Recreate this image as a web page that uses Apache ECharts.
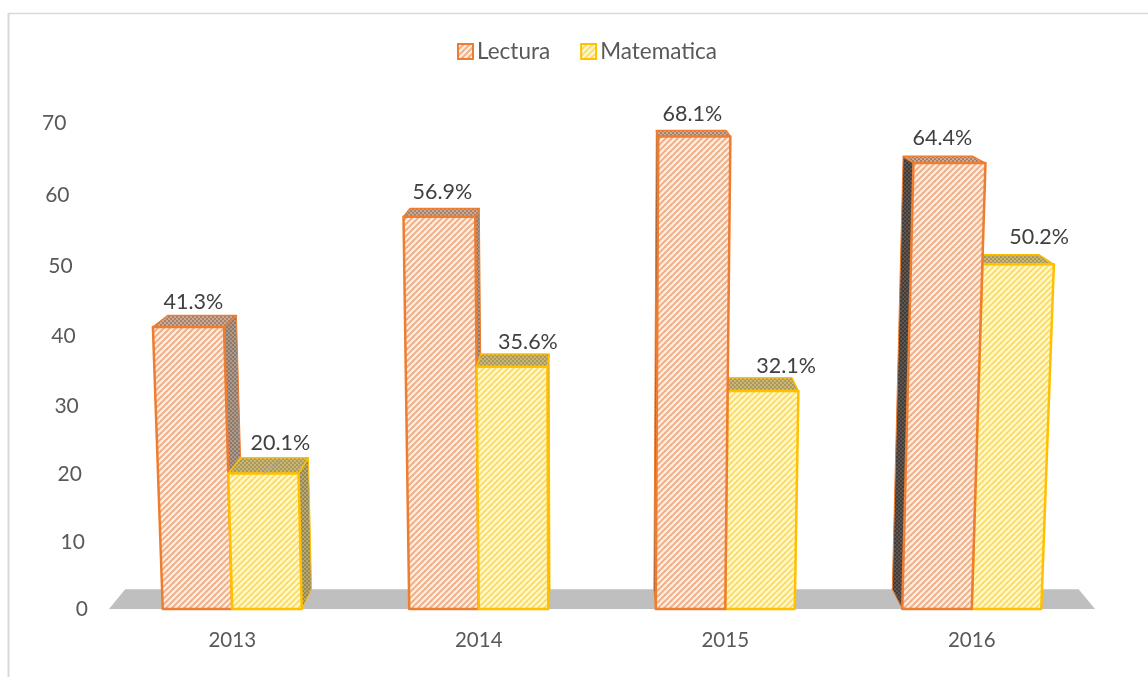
<!DOCTYPE html>
<html>
<head>
<meta charset="utf-8">
<style>html,body{margin:0;background:#fff}#chart{width:1148px;height:677px}</style>
<script src="https://cdn.jsdelivr.net/npm/echarts@6/dist/echarts.min.js"></script>
</head>
<body>
<div id="chart"></div>
<script>
const years = ['2013', '2014', '2015', '2016']
const lectura = [41.3, 56.9, 68.1, 64.4]
const matematica = [20.1, 35.6, 32.1, 50.2]
const tickLabels = [0, 10, 20, 30, 40, 50, 60, 70]

const FONT = 'Lato'
const BAR_W = 69.5
// perspective of the fake 3d box
const VX = 600, TILT = 8e-5, TILT_CX = 590, TICK_CX = 640
// hand placed data labels, px from the top middle of the box
const lecturaLabelPos = [[5, -25], [3, -25], [-2, -22], [-7, -25]]
const matematicaLabelPos = [[17, -30], [16, -25], [23, -25], [21, -27]]

function hatch(bg, fg, size, lw) {
  const c = document.createElement('canvas')
  c.width = c.height = size
  const g = c.getContext('2d')
  g.fillStyle = bg
  g.fillRect(0, 0, size, size)
  g.strokeStyle = fg
  g.lineWidth = lw
  for (let i = -1; i <= 1; i++) {
    g.beginPath()
    g.moveTo(i * size - 1, size + 1)
    g.lineTo(i * size + size + 1, -1)
    g.stroke()
  }
  return { image: c, repeat: 'repeat' }
}
function dots(bg, fg) {
  const c = document.createElement('canvas')
  c.width = c.height = 4
  const g = c.getContext('2d')
  g.fillStyle = bg
  g.fillRect(0, 0, 4, 4)
  g.fillStyle = fg
  g.fillRect(0, 0, 2, 2)
  g.fillRect(2, 2, 2, 2)
  return { image: c, repeat: 'repeat' }
}

const orange = {
  line: '#ED7D31',
  front: hatch('#FDEDE2', '#F2AC80', 6, 1.9),
  top: dots('#CFAA90', '#A08270'),
  right: dots('#AC9A8E', '#8E7868'),
  left: dots('#5E5650', '#443C38')
}
const yellow = {
  line: '#FFC000',
  front: hatch('#FFF8D0', '#FADB66', 6, 1.9),
  top: dots('#C9B574', '#A8985E'),
  right: dots('#B4A878', '#96884E'),
  left: dots('#5E5650', '#443C38')
}

// axis height in px -> the slightly compressed height of the tilted plot
function warp(h) {
  return h * (0.955 + 0.000085 * h)
}
function project(api, x, value, cx) {
  const base = api.coord([0, 0])[1]
  const h = base - api.coord([0, value])[1]
  return [cx + (x - cx) * (1 + TILT * h), base - warp(h)]
}
function depth(p) {
  return [p[0] + (VX - p[0]) * 0.033, p[1] - (p[1] + 70) * 0.029]
}
function face(points, fill, stroke, lw, z2) {
  return {
    type: 'polygon',
    z2: z2,
    shape: { points: points },
    style: { fill: fill, stroke: stroke, lineWidth: lw, lineJoin: 'round' }
  }
}

function boxRenderer(theme, side, labelPos, leaderIndex) {
  return function (params, api) {
    const xc = api.coord([api.value(0), 0])[0]
    const v = api.value(1)
    const x0 = side < 0 ? xc - BAR_W : xc
    const x1 = side < 0 ? xc : xc + BAR_W
    const bl = project(api, x0, 0, TILT_CX), br = project(api, x1, 0, TILT_CX)
    const tl = project(api, x0, v, TILT_CX), tr = project(api, x1, v, TILT_CX)
    const btl = depth(tl), btr = depth(tr), bbl = depth(bl), bbr = depth(br)
    // right of the vanishing point the left box sits in front
    const z = (xc > VX ? side < 0 : side > 0) ? 20 : 10
    const kids = []
    if (btl[0] < tl[0]) kids.push(face([tl, btl, bbl, bl], theme.left, theme.line, 1, z))
    if (btr[0] > tr[0]) kids.push(face([tr, btr, bbr, br], theme.right, theme.line, 1, z))
    kids.push(face([tl, btl, btr, tr], theme.top, theme.line, 1.5, z + 1))
    kids.push(face([bl, tl, tr, br], theme.front, theme.line, 2.5, z + 2))
    const mid = (tl[0] + tr[0]) / 2
    const pos = labelPos[params.dataIndex]
    const lx = mid + pos[0], ly = tl[1] + pos[1]
    if (params.dataIndex === leaderIndex) {
      kids.push({
        type: 'line',
        z2: 39,
        shape: { x1: mid, y1: tl[1], x2: lx, y2: ly + 17 },
        style: { stroke: '#A6A6A6', lineWidth: 1.5 }
      })
    }
    kids.push({
      type: 'text',
      z2: 40,
      style: {
        x: lx,
        y: ly,
        text: v.toFixed(1) + '%',
        fill: '#404040',
        font: '21.5px ' + FONT,
        align: 'center',
        verticalAlign: 'middle'
      }
    })
    return { type: 'group', children: kids }
  }
}

function floorRenderer(params, api) {
  const cs = params.coordSys
  const l = project(api, cs.x, 0, TILT_CX), r = project(api, cs.x + cs.width, 0, TILT_CX)
  return face([l, depth(l), depth(r), r], '#BFBFBF', 'none', 0, 1)
}

function tickRenderer(params, api) {
  const v = api.value(0)
  const p = project(api, 88, v, TICK_CX)
  return {
    type: 'text',
    z2: 40,
    style: {
      x: p[0], y: p[1] + 0.5, text: String(v),
      fill: '#595959', font: '21px ' + FONT,
      align: 'right', verticalAlign: 'middle'
    }
  }
}

const chart = echarts.init(document.getElementById('chart'))
chart.setOption({
  animation: false,
  backgroundColor: '#fff',
  graphic: [
    { type: 'line', shape: { x1: 8, y1: 13.5, x2: 1148, y2: 13.5 }, style: { stroke: '#D9D9D9', lineWidth: 1.5 } },
    { type: 'line', shape: { x1: 8.5, y1: 13, x2: 8.5, y2: 677 }, style: { stroke: '#D9D9D9', lineWidth: 2 } }
  ],
  legend: {
    left: 452,
    top: 35,
    itemWidth: 15,
    itemHeight: 15,
    itemGap: 30,
    textStyle: { color: '#595959', fontFamily: FONT, fontSize: 22.5, padding: [0, 0, 0, -1] },
    data: [
      { name: 'Lectura', icon: 'rect', itemStyle: { color: orange.front, borderColor: orange.line, borderWidth: 2 } },
      { name: 'Matematica', icon: 'rect', itemStyle: { color: yellow.front, borderColor: yellow.line, borderWidth: 2 } }
    ]
  },
  grid: { left: 109, right: 53, top: 121, bottom: 68 },
  xAxis: {
    type: 'category',
    data: years,
    axisLine: { show: false },
    axisTick: { show: false },
    axisLabel: { color: '#595959', fontFamily: FONT, fontSize: 20.5, margin: 21 }
  },
  yAxis: {
    type: 'value',
    min: 0,
    max: 70,
    interval: 10,
    axisLine: { show: false },
    axisTick: { show: false },
    axisLabel: { show: false },
    splitLine: { show: false }
  },
  series: [
    {
      type: 'custom', silent: true, clip: false, legendHoverLink: false,
      encode: { x: 0, y: 1 },
      renderItem: floorRenderer,
      data: [[0, 0]]
    },
    {
      type: 'custom', silent: true, clip: false,
      encode: { y: 0 },
      renderItem: tickRenderer,
      data: tickLabels.map(t => [t])
    },
    {
      name: 'Lectura', type: 'custom', clip: false,
      itemStyle: { color: orange.line },
      encode: { x: 0, y: 1 },
      renderItem: boxRenderer(orange, -1, lecturaLabelPos, -1),
      data: lectura.map((v, i) => [i, v])
    },
    {
      name: 'Matematica', type: 'custom', clip: false,
      itemStyle: { color: yellow.line },
      encode: { x: 0, y: 1 },
      renderItem: boxRenderer(yellow, 1, matematicaLabelPos, 0),
      data: matematica.map((v, i) => [i, v])
    }
  ]
})
</script>
</body>
</html>
